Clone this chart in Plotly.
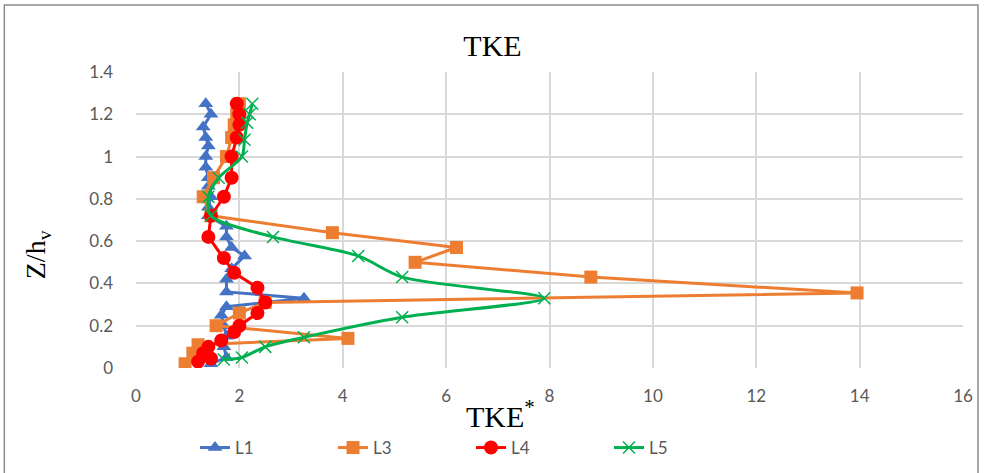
import plotly.graph_objects as go

# TKE profiles: TKE* values (x) against normalised height Z/h_v (y)
l1_tke = [1.45, 1.75, 1.7, 1.75, 1.7, 1.65, 1.75, 3.25, 1.75, 1.75, 1.85, 2.1, 1.85, 1.75, 1.75,
          1.4, 1.4, 1.45, 1.4, 1.4, 1.35, 1.35, 1.4, 1.35, 1.3, 1.45, 1.35]
l1_z = [0.02, 0.05, 0.10, 0.15, 0.20, 0.25, 0.29, 0.33, 0.36, 0.42, 0.47, 0.53, 0.57, 0.62, 0.67,
        0.72, 0.76, 0.81, 0.86, 0.90, 0.95, 1.00, 1.05, 1.09, 1.14, 1.20, 1.25]

l3_tke = [0.95, 1.1, 1.2, 4.1, 1.55, 2.0, 2.5, 13.95, 8.8, 5.4, 6.2, 3.8, 1.45, 1.3, 1.5, 1.75,
          1.85, 1.9, 1.95, 2.0]
l3_z = [0.02, 0.07, 0.11, 0.14, 0.20, 0.26, 0.31, 0.355, 0.43, 0.50, 0.57, 0.64, 0.72, 0.81, 0.90,
        1.00, 1.09, 1.15, 1.20, 1.25]

l4_tke = [1.2, 1.45, 1.3, 1.4, 1.65, 1.9, 2.0, 2.35, 2.5, 2.35, 1.9, 1.7, 1.4, 1.45, 1.7, 1.85,
          1.85, 1.95, 2.0, 2.0, 1.95]
l4_z = [0.03, 0.045, 0.07, 0.10, 0.13, 0.17, 0.20, 0.26, 0.31, 0.38, 0.45, 0.52, 0.62, 0.72, 0.81,
        0.90, 1.00, 1.09, 1.15, 1.20, 1.25]

l5_tke = [1.7, 2.05, 2.5, 3.25, 5.15, 7.9, 5.15, 4.3, 2.65, 1.45, 1.4, 1.6, 2.05, 2.1, 2.15, 2.2, 2.25]
l5_z = [0.04, 0.05, 0.10, 0.145, 0.24, 0.33, 0.43, 0.53, 0.62, 0.72, 0.81, 0.90, 1.00, 1.08, 1.16,
        1.20, 1.25]

x_ticks = [0, 2, 4, 6, 8, 10, 12, 14, 16]
y_ticks = [0, 0.2, 0.4, 0.6, 0.8, 1.0, 1.2, 1.4]
y_tick_text = ["0", "0.2", "0.4", "0.6", "0.8", "1", "1.2", "1.4"]

BLUE = "#4472C4"
ORANGE = "#ED7D31"
RED = "#FF0000"
GREEN = "#00B050"
GRID = "#D9D9D9"
TICK_FONT = dict(family="Lato", size=17, color="#595959")
SERIF = "Liberation Serif"

# plot-area pixel geometry used to place the free-standing labels
W, H = 985, 473
L, R, T, B = 136, 20, 72, 105
PW, PH = W - L - R, H - T - B


def px_x(px):
    return (px - L) / PW


def px_y(py):
    return (H - B - py) / PH


fig = go.Figure()
fig.add_trace(go.Scatter(x=l1_tke, y=l1_z, name="L1", mode="lines+markers",
                         line=dict(color=BLUE, width=3),
                         marker=dict(symbol="triangle-up", size=13, color=BLUE)))
fig.add_trace(go.Scatter(x=l3_tke, y=l3_z, name="L3", mode="lines+markers",
                         line=dict(color=ORANGE, width=3),
                         marker=dict(symbol="square", size=13, color=ORANGE)))
fig.add_trace(go.Scatter(x=l4_tke, y=l4_z, name="L4", mode="lines+markers",
                         line=dict(color=RED, width=3),
                         marker=dict(symbol="circle", size=14, color=RED)))
fig.add_trace(go.Scatter(x=l5_tke, y=l5_z, name="L5", mode="lines+markers",
                         line=dict(color=GREEN, width=3, shape="spline", smoothing=0.8),
                         marker=dict(symbol="x-thin", size=12, color=GREEN,
                                     line=dict(color=GREEN, width=1.5))))

fig.update_layout(
    width=W, height=H,
    margin=dict(l=L, r=R, t=T, b=B),
    paper_bgcolor="white", plot_bgcolor="white",
    title=dict(text="TKE", x=0.5, xref="container", xanchor="center",
               y=1 - 45 / H, yref="container", yanchor="middle",
               font=dict(family=SERIF, size=30, color="black")),
    xaxis=dict(range=[0, 16], tickvals=x_ticks, showgrid=True, gridcolor=GRID, gridwidth=1.5,
               zeroline=False, showline=False, tickfont=TICK_FONT, ticks="",
               ticklabelstandoff=16),
    yaxis=dict(range=[0, 1.4], tickvals=y_ticks, ticktext=y_tick_text, showgrid=True,
               gridcolor=GRID, gridwidth=1.5, zeroline=False, showline=False,
               tickfont=TICK_FONT, ticks="", ticklabelstandoff=22),
    legend=dict(orientation="h", x=195 / W, xref="container", xanchor="left",
                y=1 - 448 / H, yref="container", yanchor="middle",
                font=TICK_FONT, entrywidth=93, entrywidthmode="pixels"),
    showlegend=True,
)

# axis titles placed as annotations
fig.add_annotation(text="TKE<sup>*</sup>", x=px_x(501), xref="paper", xanchor="center",
                   y=px_y(414), yref="paper", yanchor="middle", showarrow=False,
                   font=dict(family=SERIF, size=30, color="black"))
fig.add_annotation(text="Z/h<sub>v</sub>", x=px_x(37), xref="paper", xanchor="center",
                   y=px_y(255), yref="paper", yanchor="middle",
                   textangle=-90, showarrow=False,
                   font=dict(family=SERIF, size=28, color="black"))

# outer chart frame
fig.add_shape(type="rect", xref="paper", yref="paper",
              x0=px_x(4), x1=px_x(980), y0=px_y(480), y1=px_y(5),
              line=dict(color="#8C8C8C", width=1.5), fillcolor="rgba(0,0,0,0)", layer="below")

fig.write_html("out.html")
